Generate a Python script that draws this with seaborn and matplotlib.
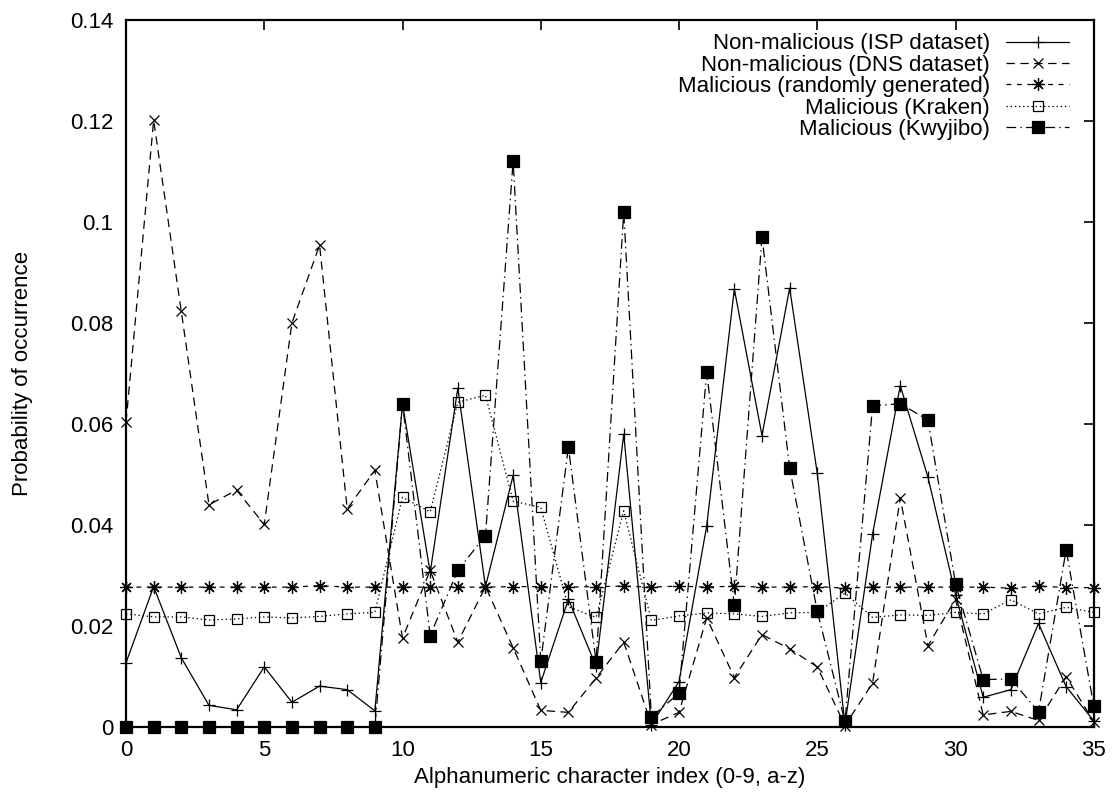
import numpy as np
import pandas as pd
import matplotlib
matplotlib.use("Agg")
import matplotlib.pyplot as plt
import seaborn as sns

# character index 0-9, a-z
char_index = list(range(36))

isp = [0.0127, 0.0278, 0.0137, 0.0043, 0.0034, 0.0119, 0.0049, 0.0081, 0.0074, 0.0032,
       0.0640, 0.0306, 0.0671, 0.0278, 0.0498, 0.0088, 0.0253, 0.0120, 0.0580, 0.0005,
       0.0090, 0.0398, 0.0867, 0.0577, 0.0869, 0.0502, 0.0005, 0.0382, 0.0676, 0.0495,
       0.0262, 0.0059, 0.0074, 0.0205, 0.0080, 0.0012]

dns = [0.0603, 0.1201, 0.0823, 0.0440, 0.0469, 0.0401, 0.0800, 0.0954, 0.0432, 0.0508,
       0.0176, 0.0310, 0.0168, 0.0278, 0.0157, 0.0033, 0.0029, 0.0097, 0.0168, 0.0005,
       0.0029, 0.0216, 0.0098, 0.0183, 0.0155, 0.0119, 0.0003, 0.0087, 0.0454, 0.0161,
       0.0253, 0.0024, 0.0031, 0.0013, 0.0100, 0.0010]

rand_gen = [0.0277, 0.0277, 0.0277, 0.0277, 0.0277, 0.0277, 0.0277, 0.0280, 0.0277, 0.0277,
            0.0277, 0.0277, 0.0277, 0.0277, 0.0278, 0.0278, 0.0277, 0.0278, 0.0279, 0.0277,
            0.0279, 0.0277, 0.0279, 0.0277, 0.0277, 0.0278, 0.0275, 0.0277, 0.0277, 0.0277,
            0.0277, 0.0277, 0.0275, 0.0279, 0.0276, 0.0276]

kraken = [0.0224, 0.0218, 0.0218, 0.0212, 0.0214, 0.0218, 0.0216, 0.0219, 0.0224, 0.0227,
          0.0455, 0.0426, 0.0643, 0.0657, 0.0447, 0.0435, 0.0238, 0.0217, 0.0428, 0.0211,
          0.0220, 0.0226, 0.0224, 0.0219, 0.0226, 0.0227, 0.0265, 0.0217, 0.0222, 0.0221,
          0.0227, 0.0224, 0.0252, 0.0224, 0.0237, 0.0227]

kwyjibo = [0.0, 0.0, 0.0, 0.0, 0.0, 0.0, 0.0, 0.0, 0.0, 0.0,
           0.0640, 0.0181, 0.0310, 0.0379, 0.1120, 0.0130, 0.0554, 0.0129, 0.1020, 0.0020,
           0.0067, 0.0703, 0.0241, 0.0970, 0.0513, 0.0229, 0.0011, 0.0636, 0.0640, 0.0608,
           0.0284, 0.0094, 0.0095, 0.0030, 0.0351, 0.0041]

labels = ["Non-malicious (ISP dataset)", "Non-malicious (DNS dataset)",
          "Malicious (randomly generated)", "Malicious (Kraken)", "Malicious (Kwyjibo)"]

y_ticks = [0, 0.02, 0.04, 0.06, 0.08, 0.1, 0.12, 0.14]
y_tick_labels = ["0", "0.02", "0.04", "0.06", "0.08", "0.1", "0.12", "0.14"]
x_ticks = [0, 5, 10, 15, 20, 25, 30, 35]

sns.set_style("white")
plt.rcParams["font.family"] = ["Liberation Sans", "DejaVu Sans"]
plt.rcParams["lines.scale_dashes"] = False
plt.rcParams.update({"text.color": "k", "axes.labelcolor": "k",
                     "xtick.color": "k", "ytick.color": "k"})

# gnuplot-like styles: marker, dash pattern, marker size, face colour
styles = [
    dict(marker="+", linestyle="-", ms=9, mfc="k"),
    dict(marker="x", linestyle=(0, (6, 4)), ms=7, mfc="k"),
    dict(marker=(8, 2, 0), linestyle=(0, (3.5, 4)), ms=9, mfc="k"),
    dict(marker="s", linestyle=(0, (1, 2)), ms=7.5, mfc="none"),
    dict(marker="s", linestyle=(0, (7, 3, 1, 3)), ms=8, mfc="k"),
]
series = [isp, dns, rand_gen, kraken, kwyjibo]

fig = plt.figure(figsize=(11.15, 7.95), dpi=100)
ax = fig.add_axes([0.113, 0.0855, 0.868, 0.8895])

for vals, lab, st in zip(series, labels, styles):
    df = pd.DataFrame({"idx": char_index, "p": vals})
    sns.lineplot(data=df, x="idx", y="p", ax=ax, color="k", lw=0.9,
                 marker=st["marker"], linestyle=st["linestyle"], ms=st["ms"],
                 mfc=st["mfc"], mec="k", mew=0.9, label=lab, clip_on=False,
                 legend=False)

ax.set_xlim(0, 35)
ax.set_ylim(0, 0.14)
ax.set_xticks(x_ticks)
ax.set_yticks(y_ticks)
ax.set_yticklabels(y_tick_labels)
ax.tick_params(direction="in", length=7, width=1.2, top=True, right=True,
               labelsize=16, pad=9, colors="k")
for sp in ax.spines.values():
    sp.set_linewidth(1.6)
    sp.set_color("k")

ax.set_xlabel("Alphanumeric character index (0-9, a-z)", fontsize=16, labelpad=5)
ax.set_ylabel("Probability of occurrence", fontsize=16, labelpad=27)

handles, labs = ax.get_legend_handles_labels()
ax.legend(handles, labs, loc="upper right", bbox_to_anchor=(0.974, 0.981),
          frameon=False, markerfirst=False, fontsize=16, handlelength=2.8,
          handletextpad=0.75, labelspacing=0.02, borderpad=0, borderaxespad=0,
          numpoints=1, labelcolor="k")

fig.savefig("out.png", dpi=100)
